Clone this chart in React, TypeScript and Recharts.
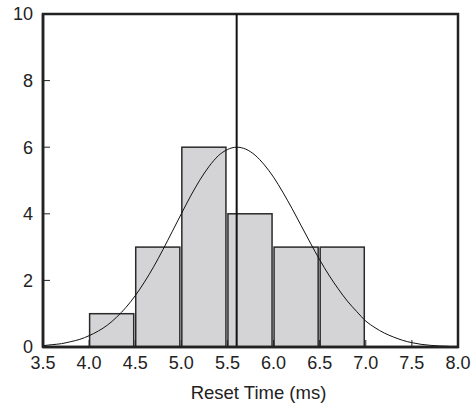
import {
  ComposedChart,
  Line,
  XAxis,
  YAxis,
  ReferenceLine,
  ReferenceArea,
} from "recharts";

// histogram bins (ms) and counts
const binStarts = [4.0, 4.5, 5.0, 5.5, 6.0, 6.5];
const binEnds = [4.5, 5.0, 5.5, 6.0, 6.5, 7.0];
const counts = [1, 3, 6, 4, 3, 3];

// fitted curve
const curveX = [
  3.5, 3.6, 3.7, 3.8, 3.9, 4.0, 4.1, 4.2, 4.3, 4.4, 4.5, 4.6, 4.7, 4.8, 4.9,
  5.0, 5.1, 5.2, 5.3, 5.4, 5.5, 5.6, 5.7, 5.8, 5.9, 6.0, 6.1, 6.2, 6.3, 6.4,
  6.5, 6.6, 6.7, 6.8, 6.9, 7.0, 7.1, 7.2, 7.3, 7.4, 7.5, 7.6, 7.7, 7.8, 7.9,
];
const curveY = [
  0.04, 0.07, 0.1, 0.16, 0.23, 0.34, 0.48, 0.66, 0.9, 1.19, 1.54, 1.95, 2.41,
  2.92, 3.46, 4.0, 4.53, 5.01, 5.42, 5.74, 5.93, 6.0, 5.94, 5.76, 5.47, 5.1,
  4.65, 4.16, 3.64, 3.12, 2.62, 2.16, 1.75, 1.38, 1.07, 0.78, 0.58, 0.42, 0.3,
  0.2, 0.13, 0.08, 0.05, 0.03, 0.02,
];

const meanTime = 5.6;
const xTicks = [3.5, 4.0, 4.5, 5.0, 5.5, 6.0, 6.5, 7.0, 7.5, 8.0];
const yTicks = [0, 2, 4, 6, 8, 10];

const data = curveX.map((x, i) => ({ x, y: curveY[i] }));

const BinRect = (props: any) => {
  const { x, y, width, height } = props;
  return (
    <rect
      x={x + 0.5}
      y={y}
      width={Math.max(width - 2, 0)}
      height={height}
      fill="#d4d4d6"
      stroke="#2a2a2a"
      strokeWidth={1.5}
    />
  );
};

const font = "'Liberation Sans', Arial, sans-serif";

export default function App() {
  return (
    <div style={{ position: "absolute", left: 0, top: 0, background: "#fff" }}>
      <ComposedChart
        width={472}
        height={405}
        data={data}
        margin={{ top: 14, right: 14, left: 0, bottom: 0 }}
      >
        <XAxis
          dataKey="x"
          type="number"
          domain={[3.5, 8]}
          ticks={xTicks}
          tickFormatter={(v: number) => v.toFixed(1)}
          height={58}
          tickSize={-7}
          tickMargin={16}
          stroke="#222"
          axisLine={{ strokeWidth: 2.5 }}
          tick={{ fill: "#222", fontSize: 18, fontFamily: font }}
          label={{
            value: "Reset Time (ms)",
            position: "insideBottom",
            offset: 6,
            dx: 8,
            fill: "#222",
            fontSize: 18.5,
            fontFamily: font,
          }}
          allowDataOverflow
        />
        <YAxis
          type="number"
          domain={[0, 10]}
          ticks={yTicks}
          width={43}
          tickSize={-7}
          tickMargin={17}
          stroke="#222"
          axisLine={{ strokeWidth: 2.5 }}
          tick={{ fill: "#222", fontSize: 18, fontFamily: font }}
          allowDataOverflow
        />
        {binStarts.map((start, i) => (
          <ReferenceArea
            key={`bin-${i}`}
            x1={start}
            x2={binEnds[i]}
            y1={0}
            y2={counts[i]}
            shape={BinRect}
          />
        ))}
        <Line
          dataKey="y"
          type="monotone"
          stroke="#111"
          strokeWidth={1}
          dot={false}
          isAnimationActive={false}
        />
        <ReferenceLine x={meanTime} stroke="#111" strokeWidth={2} />
        <ReferenceArea
          x1={3.5}
          x2={8}
          y1={0}
          y2={10}
          fill="none"
          stroke="#222"
          strokeWidth={2.5}
        />
      </ComposedChart>
    </div>
  );
}
